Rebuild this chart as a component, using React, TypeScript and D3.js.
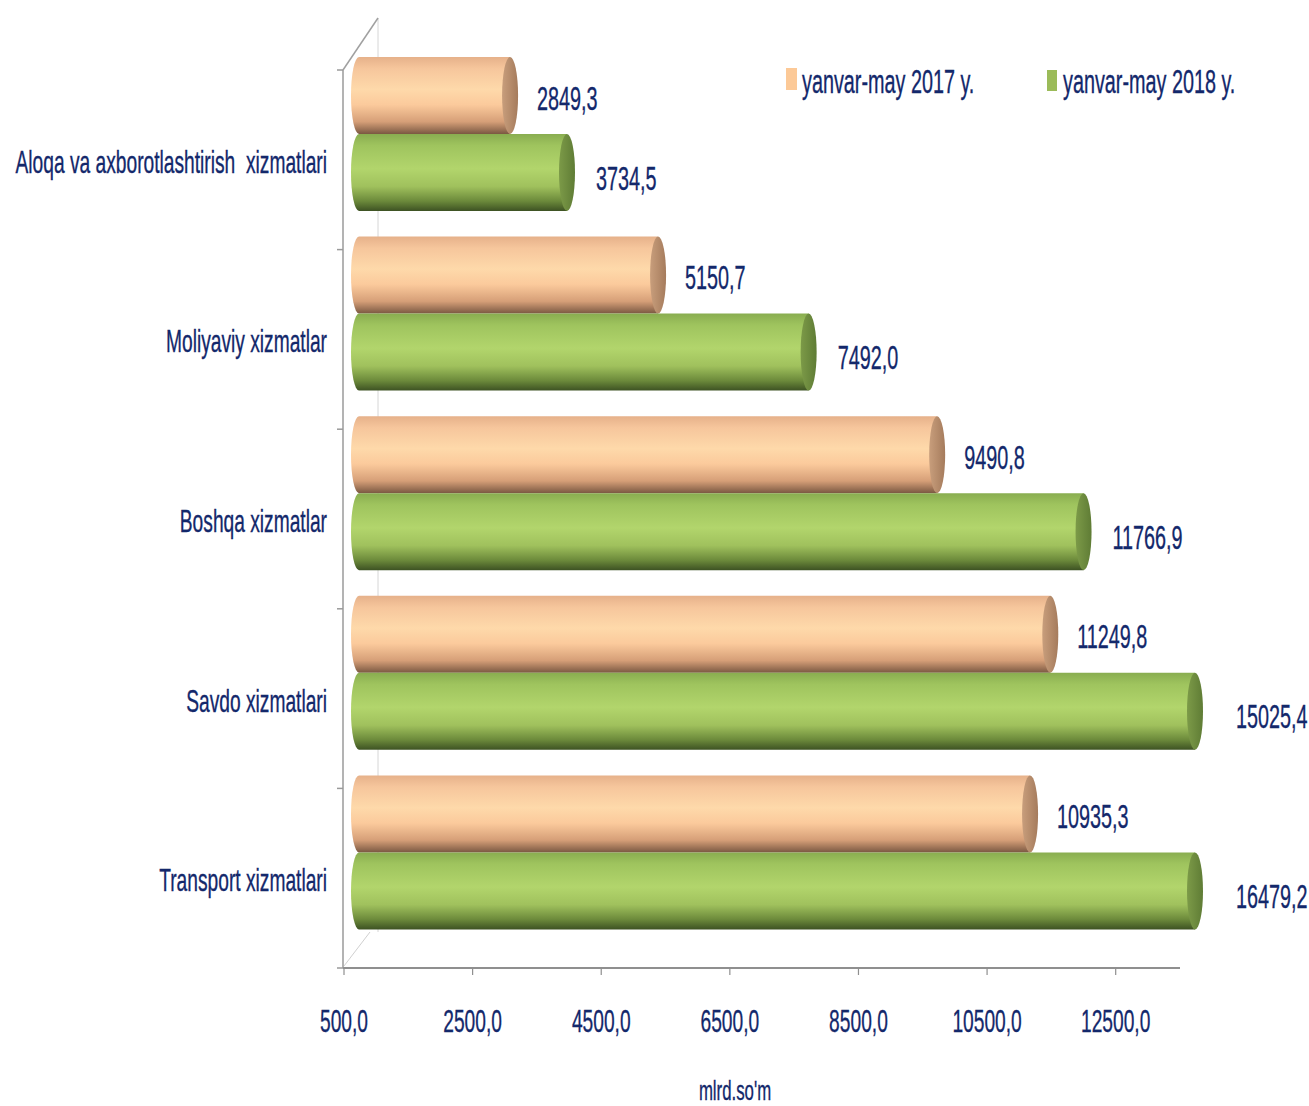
import * as d3 from 'd3';

const categories = [
  'Aloqa va axborotlashtirish  xizmatlari',
  'Moliyaviy xizmatlar',
  'Boshqa xizmatlar',
  'Savdo xizmatlari',
  'Transport xizmatlari',
];
const values2017 = [2849.3, 5150.7, 9490.8, 11249.8, 10935.3];
const values2018 = [3734.5, 7492.0, 11766.9, 15025.4, 16479.2];
const xTicks = [500, 2500, 4500, 6500, 8500, 10500, 12500];
const seriesNames = ['yanvar-may 2017 y.', 'yanvar-may 2018 y.'];

const W = 1309;
const H = 1106;
const TEXT = '#13286b';
const FONT = '"Liberation Sans", Arial, sans-serif';
const SQUEEZE = 0.6;

const x = d3.scaleLinear().domain([500, 13500]).range([344, 1180]);
const y = d3.scaleBand<string>().domain(categories).range([70, 968]);

const fmt = (v: number) => v.toFixed(1).replace('.', ',');

// narrow text: the original is horizontally compressed
function Narrow({ x: tx, y: ty, size, anchor = 'start', children }: {
  x: number; y: number; size: number; anchor?: string; children: string;
}) {
  return (
    <text
      transform={`translate(${tx},${ty}) scale(${SQUEEZE},1)`}
      textAnchor={anchor}
      fontSize={size}
      fontFamily={FONT}
      fill={TEXT}
      stroke={TEXT}
      strokeWidth={0.35}
      style={{ whiteSpace: 'pre' }}
    >
      {children}
    </text>
  );
}

const DX = 15; // depth shift of bars
const RX = 8; // end cap radius
const BAR_H = 77;

function Cylinder({ v, top, kind }: { v: number; top: number; kind: 'o' | 'g' }) {
  const x0 = x(500) + DX;
  const x1 = x(Math.min(v, 13500)) + DX;
  const bot = top + BAR_H;
  const ry = BAR_H / 2;
  const d = `M${x0},${top}L${x1},${top}L${x1},${bot}L${x0},${bot}A${RX},${ry} 0 0 1 ${x0},${top}Z`;
  return (
    <g>
      <path d={d} fill={`url(#body-${kind})`} />
      <ellipse cx={x1} cy={top + ry} rx={RX} ry={ry} fill={`url(#cap-${kind})`} />
    </g>
  );
}

export default function App() {
  const bw = y.step();
  return (
    <svg width={W} height={H} style={{ position: 'absolute', left: 0, top: 0, background: '#fff' }}>
      <defs>
        <linearGradient id="body-o" x1="0" y1="0" x2="0" y2="1">
          <stop offset="0" stopColor="#e6b18a" />
          <stop offset="0.15" stopColor="#f6c69c" />
          <stop offset="0.42" stopColor="#fed9aa" />
          <stop offset="0.62" stopColor="#fbca9c" />
          <stop offset="0.84" stopColor="#d69f78" />
          <stop offset="1" stopColor="#7a5842" />
        </linearGradient>
        <linearGradient id="body-g" x1="0" y1="0" x2="0" y2="1">
          <stop offset="0" stopColor="#89ad50" />
          <stop offset="0.15" stopColor="#9fc45e" />
          <stop offset="0.45" stopColor="#b2d56c" />
          <stop offset="0.68" stopColor="#a0c15d" />
          <stop offset="0.87" stopColor="#6c8a3b" />
          <stop offset="1" stopColor="#3d5223" />
        </linearGradient>
        <linearGradient id="cap-o" x1="0" y1="0" x2="1" y2="0">
          <stop offset="0" stopColor="#c89e7c" />
          <stop offset="1" stopColor="#a57b5c" />
        </linearGradient>
        <linearGradient id="cap-g" x1="0" y1="0" x2="1" y2="0">
          <stop offset="0" stopColor="#7c9a48" />
          <stop offset="1" stopColor="#5f7c35" />
        </linearGradient>
      </defs>

      {/* walls */}
      <line x1={378} y1={18} x2={378} y2={932} stroke="#d6d6d6" strokeWidth={1} />
      <line x1={343} y1={70} x2={378} y2={18} stroke="#a0a0a0" strokeWidth={1.5} />
      <line x1={344} y1={966} x2={370} y2={932} stroke="#d0d0d0" strokeWidth={1} />
      <line x1={343} y1={70} x2={343} y2={968} stroke="#9a9a9a" strokeWidth={1.5} />
      {[...categories.map((c) => y(c) as number), 968].map((ty, i) => (
        <line key={i} x1={337} y1={ty} x2={343} y2={ty} stroke="#9a9a9a" strokeWidth={1.5} />
      ))}

      {/* x axis */}
      <line x1={343} y1={968} x2={1180} y2={968} stroke="#8f8f8f" strokeWidth={2} />
      {xTicks.map((t) => (
        <g key={t}>
          <line x1={x(t)} y1={968} x2={x(t)} y2={975} stroke="#8f8f8f" strokeWidth={1.2} />
          <Narrow x={x(t)} y={1032} size={32} anchor="middle">{fmt(t)}</Narrow>
        </g>
      ))}
      <Narrow x={735} y={1100} size={28} anchor="middle">mlrd.so'm</Narrow>

      {/* bars */}
      {categories.map((c, i) => {
        const top = (y(c) as number) - 13;
        const v1 = values2017[i];
        const v2 = values2018[i];
        const e1 = x(Math.min(v1, 13500)) + DX + RX;
        const e2 = x(Math.min(v2, 13500)) + DX + RX;
        return (
          <g key={c}>
            <Cylinder v={v1} top={top} kind="o" />
            <Cylinder v={v2} top={top + BAR_H} kind="g" />
            <Narrow x={e1 + (v1 > 13500 ? 34 : 19)} y={top + BAR_H / 2 + 14} size={33}>{fmt(v1)}</Narrow>
            <Narrow x={e2 + (v2 > 13500 ? 33 : 21)} y={top + BAR_H * 1.5 + 17} size={33}>{fmt(v2)}</Narrow>
            <Narrow x={327} y={(y(c) as number) + bw / 2 + 13} size={32} anchor="end">{c}</Narrow>
          </g>
        );
      })}

      {/* legend */}
      <rect x={786} y={68} width={11} height={22} fill="#fcc997" />
      <Narrow x={802} y={93} size={33}>{seriesNames[0]}</Narrow>
      <rect x={1047} y={70} width={10} height={21} fill="#9bbb59" />
      <Narrow x={1063} y={93} size={33}>{seriesNames[1]}</Narrow>
    </svg>
  );
}
